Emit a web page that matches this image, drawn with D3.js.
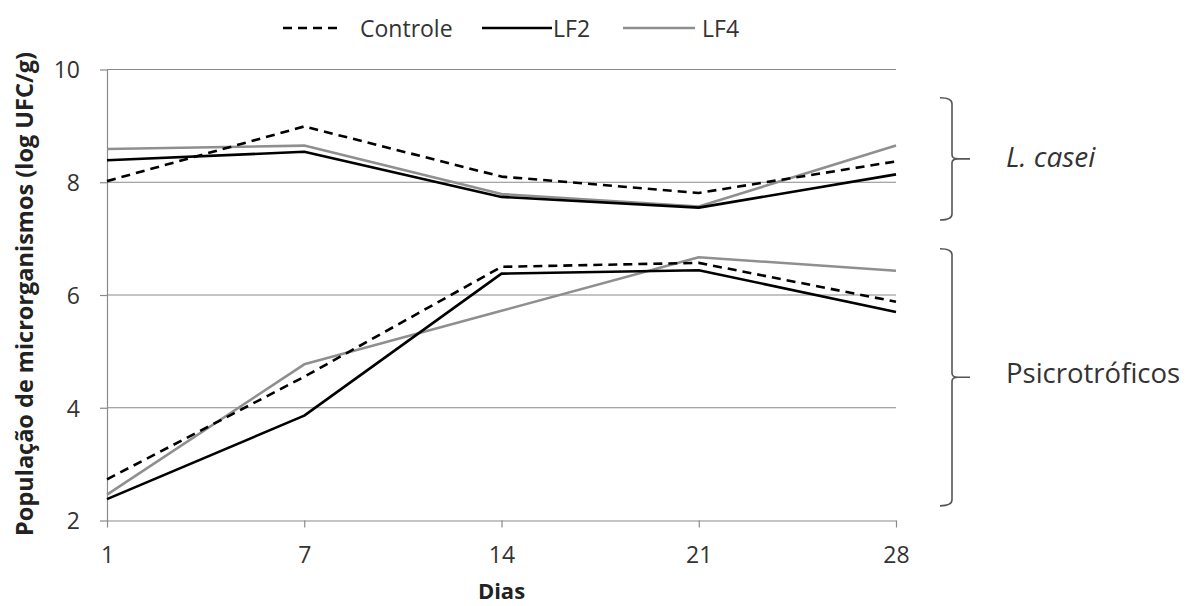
<!DOCTYPE html>
<html><head><meta charset="utf-8">
<script src="https://cdn.jsdelivr.net/npm/d3@7"></script>
<style>body{margin:0;background:#fff}svg{display:block}</style>
</head><body><svg id="c" width="1187" height="606"></svg>
<script>
const days = ["1", "7", "14", "21", "28"];
const yTicks = [2, 4, 6, 8, 10];
// L. casei
const controleLC = [8.02, 8.99, 8.10, 7.81, 8.37];
const lf2LC      = [8.39, 8.54, 7.74, 7.55, 8.14];
const lf4LC      = [8.59, 8.65, 7.79, 7.57, 8.65];
// Psicrotróficos
const controlePS = [2.73, 4.55, 6.50, 6.57, 5.88];
const lf2PS      = [2.38, 3.86, 6.38, 6.44, 5.70];
const lf4PS      = [2.46, 4.77, 5.72, 6.67, 6.43];
const seriesNames = ["Controle", "LF2", "LF4"];
const groupLabels = ["L. casei", "Psicrotróficos"];
// bracket extents in data units (top, bottom)
const groupRanges = [[9.5, 7.33], [6.82, 2.26]];

const FONT = "'Open Sans', sans-serif";
const svg = d3.select("#c");
const x = d3.scalePoint().domain(days).range([107, 896]);
const y = d3.scaleLinear().domain([2, 10]).range([520.5, 69.5]);

const styles = {
  "Controle": {stroke: "#000", width: 2.6, dash: "9,6"},
  "LF2": {stroke: "#000", width: 2.6, dash: null},
  "LF4": {stroke: "#8f8f8f", width: 2.6, dash: null}
};

// gridlines
svg.append("g").selectAll("line").data(yTicks.filter(d => d > 2)).join("line")
  .attr("x1", x(days[0])).attr("x2", x(days[days.length - 1]))
  .attr("y1", d => y(d)).attr("y2", d => y(d))
  .attr("stroke", "#8a8a8a").attr("stroke-width", 1.2);

// y axis
const ya = svg.append("g").attr("transform", `translate(${x(days[0])},0)`)
  .call(d3.axisLeft(y).tickValues(yTicks).tickSize(7).tickPadding(20).tickSizeOuter(0));
// x axis
const xa = svg.append("g").attr("transform", `translate(0,${y(2)})`)
  .call(d3.axisBottom(x).tickSize(7).tickPadding(19).tickSizeOuter(0));
[ya, xa].forEach(a => {
  a.selectAll("path, line").attr("stroke", "#8a8a8a").attr("stroke-width", 1.2);
  a.selectAll("text").attr("font-family", FONT).attr("font-size", 23).attr("fill", "#333");
});
ya.selectAll("text").attr("dy", "0.36em");

// lines
const line = d3.line().x((d, i) => x(days[i])).y(d => y(d));
const data = [
  ["LF4", lf4PS], ["LF4", lf4LC],
  ["LF2", lf2PS], ["LF2", lf2LC],
  ["Controle", controlePS], ["Controle", controleLC]
];
svg.append("g").selectAll("path").data(data).join("path")
  .attr("d", d => line(d[1]))
  .attr("fill", "none")
  .attr("stroke", d => styles[d[0]].stroke)
  .attr("stroke-width", d => styles[d[0]].width)
  .attr("stroke-dasharray", d => styles[d[0]].dash)
  .attr("stroke-linejoin", "round");

// legend
const legLine = [[283, 340], [482, 552], [623, 695]];
const legText = [360, 553, 702];
const leg = svg.append("g");
seriesNames.forEach((n, i) => {
  leg.append("line").attr("x1", legLine[i][0]).attr("x2", legLine[i][1])
    .attr("y1", 28).attr("y2", 28)
    .attr("stroke", styles[n].stroke).attr("stroke-width", styles[n].width)
    .attr("stroke-dasharray", styles[n].dash);
  leg.append("text").attr("x", legText[i]).attr("y", 36.5)
    .attr("font-family", FONT).attr("font-size", 23).attr("fill", "#333").text(n);
});

// axis titles
svg.append("text").attr("x", x(days[2])).attr("y", 599).attr("text-anchor", "middle")
  .attr("font-family", FONT).attr("font-weight", "bold").attr("font-size", 22).attr("fill", "#222").text("Dias");
svg.append("text").attr("transform", "translate(33,294) rotate(-90)").attr("text-anchor", "middle")
  .attr("font-family", FONT).attr("font-weight", "bold").attr("font-size", 23.5).attr("fill", "#222")
  .text("População de microrganismos (log UFC/g)");

// brackets
groupRanges.forEach((r, i) => {
  const top = y(r[0]), bot = y(r[1]), mid = (top + bot) / 2;
  const p = `M940,${top} Q952,${top} 952,${top + 6} L952,${mid - 4} Q952,${mid} 958,${mid} L970,${mid} M958,${mid} Q952,${mid} 952,${mid + 4} L952,${bot - 6} Q952,${bot} 940,${bot}`;
  svg.append("path").attr("d", p).attr("fill", "none").attr("stroke", "#555").attr("stroke-width", 1.6);
  svg.append("text").attr("x", 1006).attr("y", mid + (i === 0 ? 8.5 : 5.5))
    .attr("font-family", FONT).attr("font-size", i === 0 ? 28 : 27.5).attr("fill", "#333")
    .attr("font-style", i === 0 ? "italic" : "normal").text(groupLabels[i]);
});
</script></body></html>
